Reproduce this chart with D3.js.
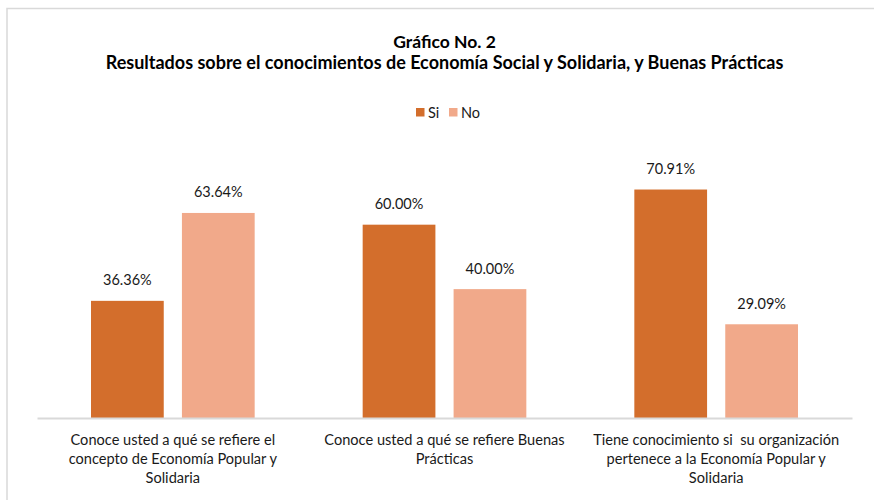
<!DOCTYPE html>
<html>
<head>
<meta charset="utf-8">
<script src="https://cdn.jsdelivr.net/npm/d3@7"></script>
<style>
  html, body { margin: 0; padding: 0; background: #fff; }
  svg { display: block; font-family: Lato, "Open Sans", sans-serif; }
  text { white-space: pre; }
</style>
</head>
<body>
<svg id="chart" width="874" height="500"></svg>
<script>
const titleLines = ["Gráfico No. 2", "Resultados sobre el conocimientos de Economía Social y Solidaria, y Buenas Prácticas"];
const categories = [
  ["Conoce usted a qué se refiere el", "concepto de Economía Popular y", "Solidaria"],
  ["Conoce usted a qué se refiere Buenas", "Prácticas"],
  ["Tiene conocimiento si  su organización", "pertenece a la Economía Popular y", "Solidaria"]
];
const seriesNames = ["Si", "No"];
const siValues = [36.36, 60.00, 70.91];
const noValues = [63.64, 40.00, 29.09];
const colors = ["#D36E2C", "#F1A98A"];

const svg = d3.select("#chart");
const W = 874, H = 500;
const margin = { left: 37, right: 22, top: 160, bottom: 82 };
const baseY = H - margin.bottom;

// frame
svg.append("path")
  .attr("d", `M7,500 V8.5 H874`)
  .attr("fill", "none").attr("stroke", "#d9d9d9").attr("stroke-width", 1.5);

const catIdx = d3.range(categories.length);
const x0 = d3.scaleBand().domain(catIdx).range([margin.left, W - margin.right]).paddingInner(0).paddingOuter(0);
const x1 = d3.scaleBand().domain(seriesNames).range([54, x0.bandwidth() - 54]).paddingInner(0.2);
const y = d3.scaleLinear().domain([0, 80]).range([baseY, baseY - 80 * 3.222]);

const rows = catIdx.map(i => ({ i, vals: [ { s: "Si", v: siValues[i] }, { s: "No", v: noValues[i] } ] }));

const g = svg.append("g");
const grp = g.selectAll("g.cat").data(rows).join("g")
  .attr("class", "cat")
  .attr("transform", d => `translate(${x0(d.i)},0)`);

grp.selectAll("rect").data(d => d.vals).join("rect")
  .attr("x", d => x1(d.s))
  .attr("width", x1.bandwidth())
  .attr("y", d => y(d.v))
  .attr("height", d => baseY - y(d.v))
  .attr("fill", d => colors[seriesNames.indexOf(d.s)]);

grp.selectAll("text.val").data(d => d.vals).join("text")
  .attr("class", "val")
  .attr("x", d => x1(d.s) + x1.bandwidth() / 2)
  .attr("y", d => y(d.v) - 15.5)
  .attr("text-anchor", "middle")
  .attr("font-size", 14.5)
  .attr("fill", "#1a1a1a")
  .text(d => d.v.toFixed(2) + "%");

// axis
const xAxis = d3.axisBottom(x0).tickSize(0).tickFormat("");
const ax = svg.append("g").attr("transform", `translate(0,${baseY})`).call(xAxis);
ax.select(".domain").attr("stroke", "#d9d9d9").attr("stroke-width", 2);

// category labels
const lab = svg.append("g").selectAll("text.cat").data(catIdx).join("text")
  .attr("class", "cat")
  .attr("text-anchor", "middle")
  .attr("font-size", 14.6)
  .attr("fill", "#1a1a1a");
lab.each(function(i) {
  const t = d3.select(this);
  categories[i].forEach((line, k) => {
    t.append("tspan")
      .attr("x", x0(i) + x0.bandwidth() / 2)
      .attr("y", 445 + k * 18.8)
      .text(line);
  });
});

// title
const cx = (margin.left + W - margin.right) / 2;
svg.append("text").attr("x", cx).attr("y", 47.5).attr("text-anchor", "middle")
  .attr("font-weight", "bold").attr("font-size", 17.5).attr("fill", "#000").text(titleLines[0]);
svg.append("text").attr("x", cx).attr("y", 68.5).attr("text-anchor", "middle")
  .attr("font-weight", "bold").attr("font-size", 18).attr("fill", "#000").text(titleLines[1]);

// legend
const leg = svg.append("g").attr("transform", "translate(416,0)");
const legX = [0, 33];
seriesNames.forEach((s, k) => {
  leg.append("rect").attr("x", legX[k]).attr("y", 108).attr("width", 8.5).attr("height", 8.5).attr("fill", colors[k]);
  leg.append("text").attr("x", legX[k] + 12).attr("y", 117.5).attr("font-size", 14.5).attr("fill", "#1a1a1a").text(s);
});
</script>
</body>
</html>
